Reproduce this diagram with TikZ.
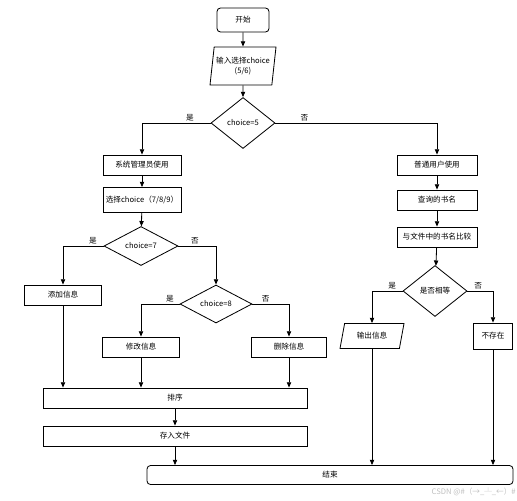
\documentclass[tikz,border=0pt]{standalone}
\usepackage{fontspec}
\usepackage{tikz}
\usetikzlibrary{arrows.meta,positioning,shapes.geometric,calc}
\newfontfamily\cjk{Noto Sans CJK SC}
\newlength\pxu
\setlength\pxu{0.03cm}

\begin{document}
\begin{tikzpicture}[
  x=0.03cm, y=-0.03cm,
  every node/.style={font=\cjk\fontsize{6.5}{8}\selectfont, inner sep=1pt},
  box/.style={draw, line width=0.7pt, minimum height=20\pxu, align=center},
  term/.style={box, rounded corners=3pt},
  io/.style={draw, line width=0.7pt, trapezium, trapezium stretches body,
    align=center},
  test/.style={draw, line width=0.7pt, diamond, inner sep=0pt},
  flow/.style={-{Triangle[length=1.6mm,width=1.3mm]}, line width=0.7pt},
  yesno/.style={above, inner sep=1.5pt}
]
\useasboundingbox (0,0) rectangle (517,500);
% main line
\node[term, minimum width=52\pxu, minimum height=24\pxu] (start) at (243,20) {开始};
\node[io, trapezium left angle=78, trapezium right angle=102,
  minimum width=66\pxu, minimum height=38\pxu] (input) at (243,66) {输入选择choice\\(5/6)};
\node[test, minimum width=64\pxu, minimum height=51\pxu] (c5) at (243,123) {choice=5};
% admin side
\node[box, minimum width=78\pxu] (admin) at (142,165) {系统管理员使用};
\node[box, minimum width=78\pxu, minimum height=25\pxu] (pick) at (142,200) {选择choice（7/8/9）};
\node[test, minimum width=74\pxu, minimum height=39\pxu] (c7) at (141,246) {choice=7};
\node[box, minimum width=77\pxu] (add) at (63,295) {添加信息};
\node[test, minimum width=72\pxu, minimum height=38\pxu] (c8) at (216,304) {choice=8};
\node[box, minimum width=77\pxu] (edit) at (141,347) {修改信息};
\node[box, minimum width=75\pxu] (del) at (289,347) {删除信息};
\node[box, minimum width=264\pxu] (sort) at (175,398) {排序};
\node[box, minimum width=264\pxu] (save) at (175,436) {存入文件};
% user side
\node[box, minimum width=80\pxu] (user) at (437,165) {普通用户使用};
\node[box, minimum width=80\pxu] (query) at (437,200) {查询的书名};
\node[box, minimum width=80\pxu] (cmp) at (437,237) {与文件中的书名比较};
\node[test, minimum width=64\pxu, minimum height=51\pxu] (same) at (435,291) {是否相等};
\node[io, trapezium left angle=64, trapezium right angle=116,
  minimum width=64\pxu, minimum height=25\pxu] (out) at (372,336) {输出信息};
\node[box, minimum width=39\pxu, minimum height=26\pxu] (none) at (493,336) {不存在};
\node[term, minimum width=366\pxu, minimum height=19\pxu] (stop) at (330,475) {结束};
\node[text=black!25, anchor=east] (mark) at (517,492) {CSDN @\#（→\_┴\_←）\#};

\draw[flow] (start) -- (input);
\draw[flow] (input) -- (c5);
\draw[flow] (c5.west) -| node[yesno, pos=0.15] {是} (admin.north);
\draw[flow] (c5.east) -| node[yesno, pos=0.09] {否} (user.north);
\draw[flow] (admin) -- (pick);
\draw[flow] (pick) -- (c7);
\draw[flow] (c7.west) -| node[yesno, pos=0.13] {是} (add.north);
\draw[flow] (c7.east) -| node[yesno, pos=0.22] {否} (c8.north);
\draw[flow] (c8.west) -| node[yesno, pos=0.125] {是} (edit.north);
\draw[flow] (c8.east) -| node[yesno, pos=0.18] {否} (del.north);
\draw[flow] (add.south) -- (add.south |- sort.north);
\draw[flow] (edit.south) -- (edit.south |- sort.north);
\draw[flow] (del.south) -- (del.south |- sort.north);
\draw[flow] (sort) -- (save);
\draw[flow] (save.south) -- (save.south |- stop.north);
\draw[flow] (user) -- (query);
\draw[flow] (query) -- (cmp);
\draw[flow] (cmp) -- (same);
\draw[flow] (same.west) -| node[yesno, pos=0.17] {是} (out.north);
\draw[flow] (same.east) -| node[yesno, pos=0.21] {否} (none.north);
\draw[flow] (out.south) -- (out.south |- stop.north);
\draw[flow] (none.south) -- (none.south |- stop.north);
\end{tikzpicture}
\end{document}
